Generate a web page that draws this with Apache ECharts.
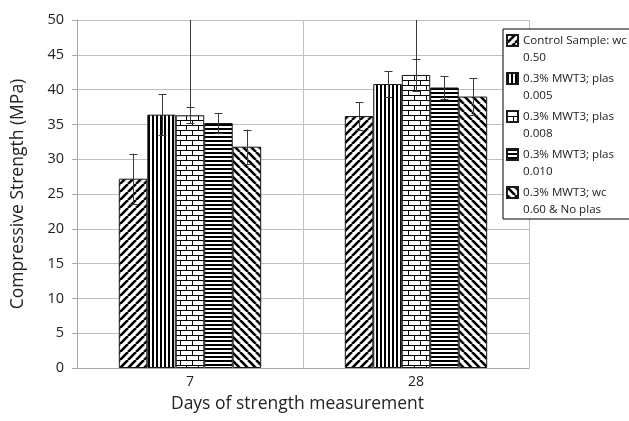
<!DOCTYPE html>
<html><head><meta charset="utf-8">
<script src="https://cdn.jsdelivr.net/npm/echarts@6/dist/echarts.min.js"></script>
<style>html,body{margin:0;padding:0;background:#fff}#c{width:629px;height:421px}</style>
</head><body><div id="c"></div>
<script>
// ---- data ----
const categories = ['7', '28'];
const seriesNames = [
  'Control Sample: wc\n0.50',
  '0.3% MWT3; plas\n0.005',
  '0.3% MWT3; plas\n0.008',
  '0.3% MWT3; plas\n0.010',
  '0.3% MWT3; wc\n0.60 & No plas'
];
const controlWc050 = [27.2, 36.2];
const mwt3Plas0005 = [36.4, 40.8];
const mwt3Plas0008 = [36.3, 42.1];
const mwt3Plas0010 = [35.2, 40.3];
const mwt3Wc060NoPlas = [31.8, 39.0];
const errControl = [3.6, 1.95];
const errPlas0005 = [2.9, 1.85];
const errPlas0008 = [1.15, 2.35];
const errPlas0010 = [1.45, 1.65];
const errWc060 = [2.45, 2.65];
// an extra error whisker line that runs past the top of the axis (clipped at 50)
const extraWhiskerTop = [[null, null], [null, null], [50, 50], [null, null], [null, null]];
const yTicks = [0, 5, 10, 15, 20, 25, 30, 35, 40, 45, 50];

const values = [controlWc050, mwt3Plas0005, mwt3Plas0008, mwt3Plas0010, mwt3Wc060NoPlas];
const errors = [errControl, errPlas0005, errPlas0008, errPlas0010, errWc060];

// ---- patterns ----
function mk(w, h, draw) {
  const c = document.createElement('canvas'); c.width = w; c.height = h;
  const g = c.getContext('2d'); g.fillStyle = '#fff'; g.fillRect(0, 0, w, h);
  g.fillStyle = '#000'; g.strokeStyle = '#000'; draw(g, w, h); return c;
}
function diag(forward) {
  return mk(8, 8, (g, w, h) => {
    g.lineWidth = 2.6;
    for (let k = -1; k <= 1; k++) {
      g.beginPath();
      if (forward) { g.moveTo(k * w, h); g.lineTo(k * w + w, 0); }
      else { g.moveTo(k * w, 0); g.lineTo(k * w + w, h); }
      g.stroke();
    }
  });
}
const patterns = [
  diag(true),
  mk(4, 4, (g) => { g.fillRect(0, 0, 2, 4); }),
  mk(12, 10, (g) => {
    g.fillRect(0, 0, 12, 1); g.fillRect(0, 5, 12, 1);
    g.fillRect(0, 0, 1, 5); g.fillRect(6, 5, 1, 5);
  }),
  mk(4, 4, (g) => { g.fillRect(0, 0, 4, 2); }),
  diag(false)
];

const gap = 0.37;
const series = values.map((v, j) => ({
  name: seriesNames[j],
  type: 'bar',
  data: v,
  barGap: '0%',
  barCategoryGap: (gap * 100) + '%',
  itemStyle: { color: { image: patterns[j], repeat: 'repeat' }, borderColor: '#1a1a1a', borderWidth: 1 },
  emphasis: { disabled: true },
  z: 2
}));

values.forEach((v, j) => {
  series.push({
    type: 'custom',
    name: seriesNames[j] + ' err',
    z: 5,
    silent: true,
    data: v.map((val, i) => [i, val, errors[j][i], extraWhiskerTop[j][i]]),
    renderItem: function (params, api) {
      const ci = api.value(0), val = api.value(1), e = api.value(2), ext = api.value(3);
      const band = api.size([1, 0])[0];
      const bw = band * (1 - gap) / 5;
      const cx = api.coord([ci, val])[0] + (j - 2) * bw;
      const yTop = api.coord([ci, val + e])[1];
      const yBot = api.coord([ci, val - e])[1];
      let yLineTop = yTop;
      if (ext != null && !isNaN(ext)) yLineTop = api.coord([ci, ext])[1];
      const st = { stroke: '#3a3a3a', lineWidth: 1 };
      const x = Math.round(cx) + 0.5;
      return {
        type: 'group',
        children: [
          { type: 'line', shape: { x1: x, y1: yBot, x2: x, y2: yLineTop }, style: st },
          { type: 'line', shape: { x1: x - 4, y1: Math.round(yTop) + 0.5, x2: x + 4, y2: Math.round(yTop) + 0.5 }, style: st },
          { type: 'line', shape: { x1: x - 4, y1: Math.round(yBot) + 0.5, x2: x + 4, y2: Math.round(yBot) + 0.5 }, style: st }
        ]
      };
    }
  });
});

const font = '"Open Sans", "Noto Sans", sans-serif';
const chart = echarts.init(document.getElementById('c'), null, { renderer: 'canvas' });
chart.setOption({
  animation: false,
  backgroundColor: '#fff',
  grid: { left: 77, right: 100, top: 20, bottom: 53, containLabel: false },
  legend: {
    orient: 'vertical',
    left: 503, top: 29,
    data: seriesNames,
    backgroundColor: '#fff',
    borderColor: '#000', borderWidth: 1, borderRadius: 0,
    padding: [3, 3, 1, 3],
    itemGap: 4,
    itemWidth: 11, itemHeight: 28,
    icon: 'path://M0,0L11,0L11,11L0,11ZM0,28',
    textStyle: { fontFamily: font, fontSize: 11.6, color: '#222', lineHeight: 17 },
    selectedMode: false
  },
  xAxis: {
    type: 'category',
    data: categories,
    name: 'Days of strength measurement',
    nameLocation: 'middle', nameGap: 27,
    nameTextStyle: { fontFamily: font, fontSize: 17.5, color: '#222', padding: [0, 11, 0, 0] },
    axisLine: { lineStyle: { color: '#a6a6a6', width: 1 } },
    axisTick: { show: false },
    axisLabel: { fontFamily: font, fontSize: 14, color: '#222', margin: 7 },
    splitLine: { show: true, lineStyle: { color: '#bfbfbf', width: 1 } }
  },
  yAxis: {
    type: 'value',
    min: 0, max: 50, interval: 5,
    name: 'Compressive Strength (MPa)',
    nameLocation: 'middle', nameGap: 50,
    nameTextStyle: { fontFamily: font, fontSize: 17.5, color: '#222' },
    axisLine: { show: true, lineStyle: { color: '#a6a6a6', width: 1 } },
    axisTick: { show: true, length: 5, lineStyle: { color: '#a6a6a6' } },
    axisLabel: { fontFamily: font, fontSize: 14.5, color: '#222', margin: 13,
      formatter: (v) => yTicks.includes(v) ? String(v) : '' },
    splitLine: { show: true, lineStyle: { color: '#bfbfbf', width: 1 } }
  },
  series: series
});
</script></body></html>
